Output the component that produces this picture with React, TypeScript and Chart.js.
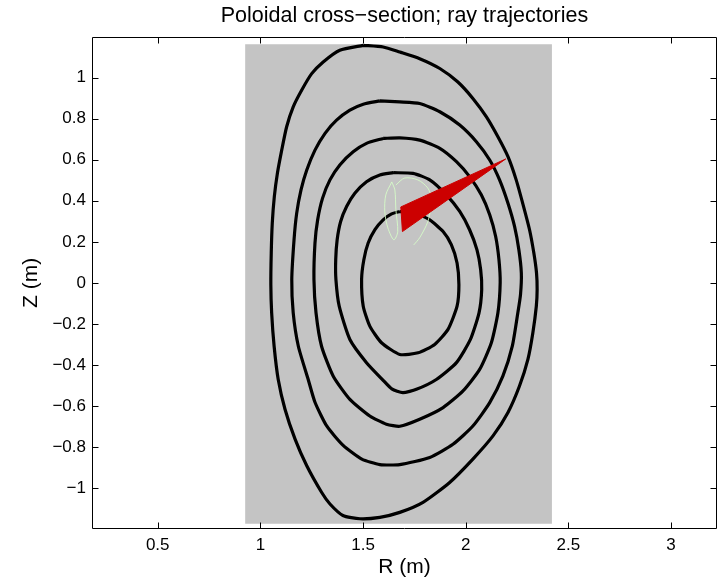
import React, { useEffect, useRef } from 'react';
import { Chart, registerables } from 'chart.js';

Chart.register(...registerables);

// Axis ticks
const xTicks = [0.5, 1, 1.5, 2, 2.5, 3];
const yTicks = [-1, -0.8, -0.6, -0.4, -0.2, 0, 0.2, 0.4, 0.6, 0.8, 1];

// Gray computational box
const boxR = [0.926, 2.42, 2.42, 0.926, 0.926];
const boxZ = [1.163, 1.163, -1.175, -1.175, 1.163];

// Flux surfaces (outermost first), traced clockwise from the top
const c1R = [1.501, 1.598, 1.679, 1.776, 1.874, 1.962, 2.035, 2.101, 2.157, 2.206, 2.246, 2.282, 2.311, 2.332, 2.345, 2.348, 2.344, 2.327, 2.303, 2.262, 2.206, 2.133, 2.035, 1.922, 1.792, 1.679, 1.582, 1.485, 1.402, 1.339, 1.298, 1.226, 1.169, 1.12, 1.087, 1.067, 1.055, 1.051, 1.053, 1.058, 1.068, 1.083, 1.104, 1.128, 1.16, 1.201, 1.25, 1.306, 1.387, 1.501];
const c1Z = [1.158, 1.15, 1.125, 1.093, 1.045, 0.979, 0.899, 0.809, 0.712, 0.615, 0.502, 0.372, 0.259, 0.145, 0.048, -0.033, -0.114, -0.244, -0.373, -0.503, -0.632, -0.746, -0.859, -0.973, -1.07, -1.119, -1.143, -1.15, -1.134, -1.078, -1.021, -0.892, -0.762, -0.616, -0.471, -0.309, -0.146, -0.009, 0.145, 0.291, 0.42, 0.534, 0.647, 0.761, 0.858, 0.939, 1.02, 1.077, 1.134, 1.158];

const c2R = [1.582, 1.679, 1.776, 1.874, 1.971, 2.052, 2.117, 2.165, 2.206, 2.238, 2.259, 2.271, 2.267, 2.254, 2.227, 2.181, 2.117, 2.035, 1.938, 1.825, 1.679, 1.582, 1.494, 1.402, 1.324, 1.266, 1.233, 1.185, 1.16, 1.153, 1.164, 1.177, 1.198, 1.226, 1.266, 1.315, 1.371, 1.436, 1.501, 1.582];
const c2Z = [0.887, 0.882, 0.874, 0.834, 0.769, 0.688, 0.599, 0.502, 0.388, 0.275, 0.161, 0.048, -0.057, -0.146, -0.309, -0.455, -0.584, -0.698, -0.787, -0.851, -0.886, -0.886, -0.859, -0.791, -0.699, -0.582, -0.471, -0.309, -0.146, 0.016, 0.21, 0.34, 0.453, 0.55, 0.647, 0.729, 0.793, 0.842, 0.871, 0.887];

const c3R = [1.598, 1.679, 1.776, 1.874, 1.955, 2.019, 2.076, 2.117, 2.146, 2.162, 2.168, 2.157, 2.125, 2.068, 1.987, 1.89, 1.776, 1.679, 1.614, 1.533, 1.436, 1.355, 1.298, 1.271, 1.261, 1.266, 1.279, 1.303, 1.339, 1.387, 1.452, 1.517, 1.598];
const c3Z = [0.704, 0.707, 0.696, 0.656, 0.591, 0.518, 0.429, 0.332, 0.226, 0.113, 0.001, -0.146, -0.292, -0.422, -0.527, -0.608, -0.665, -0.699, -0.689, -0.649, -0.568, -0.455, -0.309, -0.146, 0.016, 0.194, 0.307, 0.413, 0.502, 0.575, 0.639, 0.68, 0.704];

const c4R = [1.647, 1.744, 1.825, 1.906, 1.971, 2.019, 2.055, 2.073, 2.078, 2.065, 2.023, 1.955, 1.857, 1.76, 1.694, 1.64, 1.598, 1.517, 1.436, 1.384, 1.368, 1.367, 1.374, 1.391, 1.42, 1.46, 1.517, 1.582, 1.647];
const c4Z = [0.537, 0.534, 0.502, 0.429, 0.348, 0.259, 0.161, 0.064, -0.033, -0.146, -0.276, -0.389, -0.471, -0.519, -0.535, -0.517, -0.475, -0.389, -0.276, -0.114, 0.016, 0.113, 0.21, 0.299, 0.372, 0.437, 0.493, 0.526, 0.537];

const c5R = [1.679, 1.752, 1.825, 1.89, 1.93, 1.958, 1.967, 1.958, 1.914, 1.849, 1.768, 1.679, 1.59, 1.533, 1.501, 1.493, 1.504, 1.525, 1.558, 1.598, 1.639, 1.679];
const c5Z = [0.348, 0.34, 0.307, 0.25, 0.186, 0.097, -0.009, -0.114, -0.227, -0.3, -0.341, -0.349, -0.292, -0.211, -0.114, 0.016, 0.113, 0.194, 0.259, 0.307, 0.336, 0.348];

// Ray bundle (red wedge)
const rayR = [1.684, 2.195, 1.692, 1.684];
const rayZ = [0.37, 0.604, 0.25, 0.37];

// Faint wave-field traces near launch region
const g1R = [1.64, 1.611, 1.606, 1.621, 1.65, 1.669, 1.66, 1.655, 1.64];
const g1Z = [0.492, 0.429, 0.346, 0.268, 0.21, 0.249, 0.356, 0.453, 0.492];
const g2R = [1.66, 1.703, 1.767, 1.815, 1.835];
const g2Z = [0.477, 0.511, 0.502, 0.463, 0.414];
const g3R = [1.835, 1.815, 1.776, 1.747];
const g3Z = [0.384, 0.297, 0.22, 0.185];

const FONT = "'Liberation Sans', Arial, Helvetica, sans-serif";

const pts = (rs: number[], zs: number[]) => rs.map((r, i) => ({ x: r, y: zs[i] }));

const fmt = (v: number) => (v < 0 ? '\u2212' + String(Math.abs(v)) : String(v));

const framePlugin = {
  id: 'matlabFrame',
  afterDatasetsDraw(chart: any) {
    const { ctx, chartArea: a, scales } = chart;
    const xs = scales.x;
    const ys = scales.y;
    const L = Math.round(a.left) + 0.5;
    const R = Math.round(a.right) - 0.5;
    const T = Math.round(a.top) + 0.5;
    const B = Math.round(a.bottom) - 0.5;
    const len = 6;
    ctx.save();
    ctx.strokeStyle = '#000';
    ctx.lineWidth = 1;
    ctx.beginPath();
    ctx.rect(L, T, R - L, B - T);
    xTicks.forEach((v) => {
      const p = Math.round(xs.getPixelForValue(v)) + 0.5;
      ctx.moveTo(p, B);
      ctx.lineTo(p, B - len);
      ctx.moveTo(p, T);
      ctx.lineTo(p, T + len);
    });
    yTicks.forEach((v) => {
      const p = Math.round(ys.getPixelForValue(v)) + 0.5;
      ctx.moveTo(L, p);
      ctx.lineTo(L + len, p);
      ctx.moveTo(R, p);
      ctx.lineTo(R - len, p);
    });
    ctx.stroke();
    ctx.restore();
  },
};

export default function App() {
  const ref = useRef<HTMLCanvasElement | null>(null);

  useEffect(() => {
    if (!ref.current) return;
    Chart.defaults.font.family = FONT;
    const line = (data: any, color: string, width: number, extra: any = {}) => ({
      data,
      borderColor: color,
      backgroundColor: color,
      borderWidth: width,
      pointRadius: 0,
      showLine: true,
      tension: 0,
      fill: false,
      ...extra,
    });
    const contour = (data: any) => line(data, '#000', 3.2, { tension: 0.2, borderJoinStyle: 'round' });
    const chart = new Chart(ref.current, {
      type: 'scatter',
      data: {
        datasets: [
          line(pts(rayR, rayZ), '#cc0000', 1, { fill: 'shape', backgroundColor: '#cc0000' }),
          line(pts(g1R, g1Z), 'rgba(215,255,200,0.85)', 1, { tension: 0.3 }),
          line(pts(g2R, g2Z), 'rgba(215,255,200,0.85)', 1, { tension: 0.3 }),
          line(pts(g3R, g3Z), 'rgba(215,255,200,0.85)', 1, { tension: 0.3 }),
          contour(pts(c5R, c5Z)),
          contour(pts(c4R, c4Z)),
          contour(pts(c3R, c3Z)),
          contour(pts(c2R, c2Z)),
          contour(pts(c1R, c1Z)),
          line(pts(boxR, boxZ), '#c4c4c4', 0, { fill: 'shape', backgroundColor: '#c4c4c4' }),
        ],
      },
      options: {
        animation: false,
        responsive: false,
        devicePixelRatio: 1,
        layout: { padding: { left: 0, right: 1, top: 0, bottom: 0 } },
        plugins: {
          legend: { display: false },
          tooltip: { enabled: false },
          title: {
            display: true,
            fullSize: false,
            text: 'Poloidal cross\u2212section; ray trajectories',
            color: '#000',
            font: { family: FONT, size: 21.5, weight: 'normal' },
            padding: { top: 3, bottom: 7.9 },
          },
        },
        scales: {
          x: {
            type: 'linear',
            position: 'bottom',
            min: 0.18,
            max: 3.224,
            grid: { display: false, drawTicks: false },
            border: { display: false },
            afterBuildTicks: (s: any) => {
              s.ticks = xTicks.map((v) => ({ value: v }));
            },
            afterFit: (s: any) => {
              s.height = 51;
            },
            ticks: {
              autoSkip: false,
              maxRotation: 0,
              color: '#000',
              font: { family: FONT, size: 17 },
              padding: 6.5,
              callback: (v: any) => fmt(Number(v)),
            },
            title: {
              display: true,
              text: 'R (m)',
              color: '#000',
              font: { family: FONT, size: 21 },
              padding: { top: 0, bottom: 0.5 },
            },
          },
          y: {
            type: 'linear',
            min: -1.2,
            max: 1.2,
            grid: { display: false, drawTicks: false },
            border: { display: false },
            afterBuildTicks: (s: any) => {
              s.ticks = yTicks.map((v) => ({ value: v }));
            },
            afterFit: (s: any) => {
              s.width = 92;
            },
            ticks: {
              autoSkip: false,
              color: '#000',
              font: { family: FONT, size: 17 },
              padding: 6,
              callback: (v: any) => fmt(Number(v)),
            },
            title: {
              display: true,
              text: 'Z (m)',
              color: '#000',
              font: { family: FONT, size: 21 },
              padding: { top: 19, bottom: 0 },
            },
          },
        },
      },
      plugins: [framePlugin],
    } as any);
    return () => chart.destroy();
  }, []);

  return (
    <div style={{ position: 'fixed', left: 0, top: 0, width: 718, height: 580, background: '#fff' }}>
      <canvas ref={ref} width={718} height={580} style={{ display: 'block', width: 718, height: 580 }} />
    </div>
  );
}
